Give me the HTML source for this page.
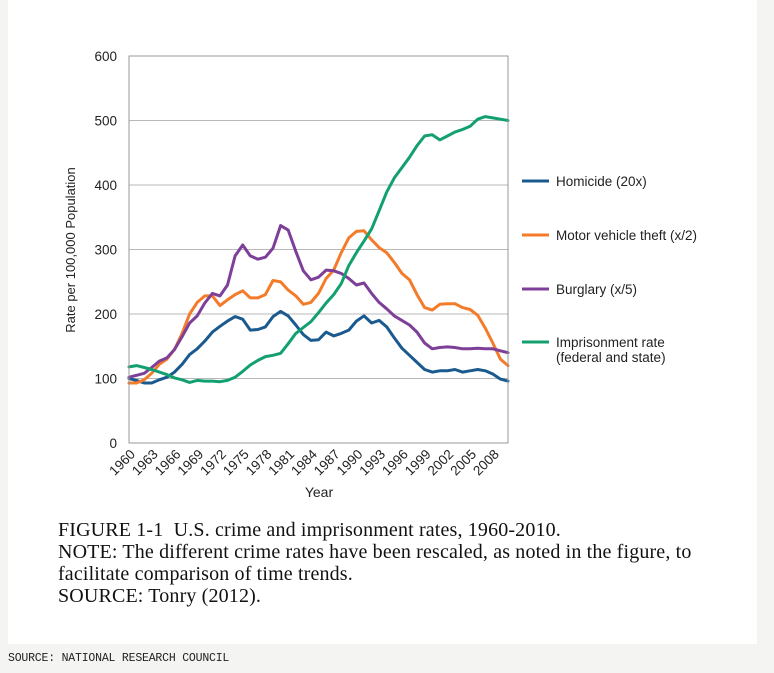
<!DOCTYPE html>
<html><head><meta charset="utf-8">
<style>
body{margin:0;width:774px;height:673px;background:#f4f4f2;overflow:hidden;font-family:"Liberation Sans",sans-serif;}
#panel{position:absolute;left:8px;top:0;width:749px;height:644px;background:#fff;}
#caption{position:absolute;left:58px;top:519px;font-family:"Liberation Serif",serif;font-size:20px;line-height:22px;color:#111;letter-spacing:0.15px;}
#source{position:absolute;left:8px;top:652px;font-family:"Liberation Mono",monospace;font-size:11.5px;color:#222;letter-spacing:-0.2px;}
</style></head><body>
<div id="panel"></div>
<svg id="chart" width="774" height="673" style="position:absolute;left:0;top:0">
<defs><clipPath id="lc"><rect x="0" y="0" width="697" height="673"/></clipPath></defs>
<g id="grid"></g><g id="series"></g><g id="axes"></g>
<g id="legend" clip-path="url(#lc)"></g>
</svg>
<div id="caption">
<div>FIGURE 1-1&nbsp; U.S. crime and imprisonment rates, 1960-2010.</div>
<div>NOTE: The different crime rates have been rescaled, as noted in the figure, to<br>facilitate comparison of time trends.</div>
<div>SOURCE: Tonry (2012).</div>
</div>
<div id="source">SOURCE: NATIONAL RESEARCH COUNCIL</div>
<script>
const years = [];
for (let y = 1960; y <= 2010; y++) years.push(y);
const yTicks = [0,100,200,300,400,500,600];
const xTickLabels = [1960,1963,1966,1969,1972,1975,1978,1981,1984,1987,1990,1993,1996,1999,2002,2005,2008];
const homicide = [100,97,93,93,98,102,110,122,137,146,158,172,181,189,196,192,175,176,180,196,204,197,183,168,159,160,172,166,170,175,189,197,186,190,180,163,147,136,125,114,110,112,112,114,110,112,114,112,107,99,96];
const motorTheft = [93,93,98,108,122,130,145,170,200,218,228,228,213,222,230,236,225,225,230,252,250,237,228,215,218,232,255,268,295,318,328,329,315,303,295,280,263,253,230,210,206,215,216,216,210,207,198,178,155,130,120];
const burglary = [102,105,108,117,127,132,145,165,186,197,217,232,228,245,290,307,290,285,288,302,337,330,297,267,253,257,268,267,263,255,245,248,232,218,208,197,190,183,172,155,146,148,149,148,146,146,147,146,146,143,140];
const imprisonment = [118,120,117,114,110,106,101,98,94,97,96,96,95,97,102,111,121,128,134,136,139,154,170,179,188,202,217,230,247,275,295,313,332,360,389,411,427,443,461,476,478,470,476,482,486,491,502,506,504,502,500];
const seriesNames = ["Homicide (20x)","Motor vehicle theft (x/2)","Burglary (x/5)","Imprisonment rate"];
const seriesData = [homicide, motorTheft, burglary, imprisonment];
const colors = ["#1b5a8e","#f47b2a","#7d3f98","#13a06f"];
const slugs = ["homicide","motor-vehicle-theft","burglary","imprisonment-rate"];

const L=129,R=508,T=56,B=443;
const xs = y => L + (y-1960)/(2010-1960)*(R-L);
const ys = v => B - v/600*(B-T);
const NS="http://www.w3.org/2000/svg";
function mk(tag, attrs, parent){const e=document.createElementNS(NS,tag);for(const k in attrs)e.setAttribute(k,attrs[k]);parent.appendChild(e);return e;}
const grid=document.getElementById('grid'), axes=document.getElementById('axes'), ser=document.getElementById('series'), leg=document.getElementById('legend');

yTicks.forEach(v=>{
  const l=mk('line',{x1:L,x2:R,y1:ys(v),y2:ys(v),stroke:"#b8b8b8","stroke-width":1},grid);
  
  
  const t=mk('text',{x:L-12,y:ys(v)+5,"text-anchor":"end","font-size":13.5,fill:"#222"},axes);
  t.textContent=v;
  
  
});
const fr=mk('rect',{x:L,y:T,width:R-L,height:B-T,fill:"none",stroke:"#999","stroke-width":1},axes);


xTickLabels.forEach(y=>{
  const x=xs(y)+7, yy=B+12;
  const t=mk('text',{x:x,y:yy,"text-anchor":"end","font-size":13.5,fill:"#222",transform:`rotate(-45 ${x} ${yy})`},axes);
  t.textContent=y;
  
  
});
const xt=mk('text',{x:319,y:497,"text-anchor":"middle","font-size":14,fill:"#222"},axes);
xt.textContent="Year";


const yt=mk('text',{x:75,y:250,"text-anchor":"middle","font-size":13,fill:"#222",transform:"rotate(-90 75 250)"},axes);
yt.textContent="Rate per 100,000 Population";



seriesData.forEach((d,i)=>{
  const pts=d.map((v,j)=>xs(years[j]).toFixed(1)+","+ys(v).toFixed(1)).join(" ");
  const p=mk('polyline',{points:pts,fill:"none",stroke:colors[i],"stroke-width":3,"stroke-linejoin":"round","stroke-linecap":"round"},ser);
  
  
});

const legY=[181,235,289,342];
seriesNames.forEach((n,i)=>{
  const g=mk('g',{},leg);
  
  
  mk('line',{x1:522,x2:549,y1:legY[i],y2:legY[i],stroke:colors[i],"stroke-width":3},g);
  const t=mk('text',{x:556,y:legY[i]+5,"font-size":13.5,fill:"#222"},g);
  t.textContent=n;
  if(i===3){const t2=mk('text',{x:556,y:legY[i]+20,"font-size":13.5,fill:"#222"},g);t2.textContent="(federal and state)";}
});
</script>
</body></html>
